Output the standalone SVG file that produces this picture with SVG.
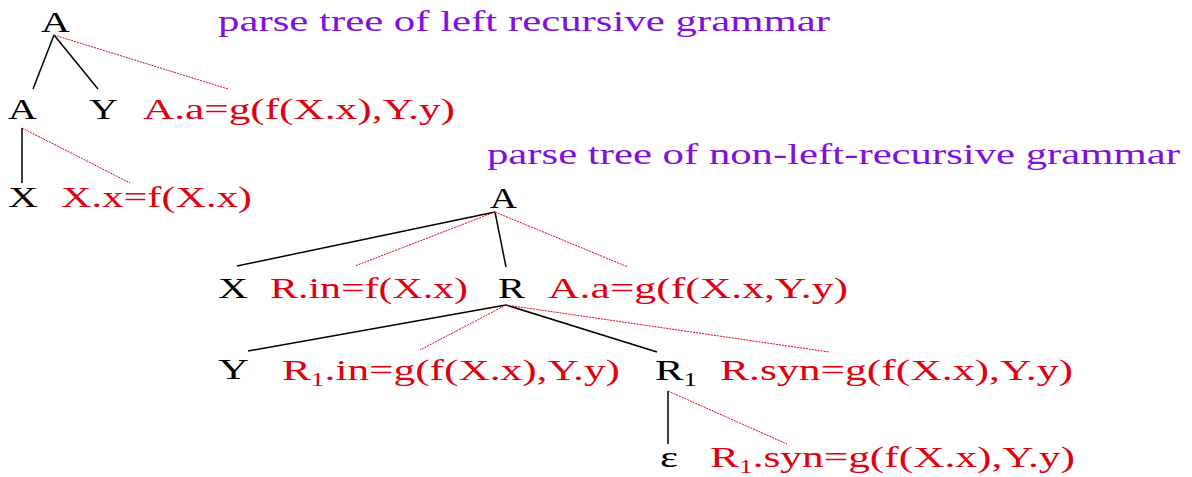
<svg xmlns="http://www.w3.org/2000/svg" width="1192" height="477" viewBox="0 0 1192 477">
<style>
text{font-family:"Liberation Serif","Times New Roman",serif;font-size:30px;}
.n{fill:#000;}
.r{fill:#e00010;}
.t{fill:#7f10e0;}
.sub{font-size:19px;}
.e{stroke:#000;stroke-width:1.5;fill:none;}
.d{stroke:#e00010;stroke-width:1;stroke-dasharray:2 1;fill:none;}
</style>
<rect width="1192" height="477" fill="#fff"/>
<g id="connectors">
<line class="e" x1="54" y1="35" x2="33" y2="89"/>
<line class="e" x1="54" y1="35" x2="98" y2="89"/>
<line class="d" x1="54" y1="35" x2="228" y2="89"/>
<line class="e" x1="22" y1="128" x2="22" y2="183"/>
<line class="d" x1="22" y1="128" x2="130" y2="183"/>
<line class="e" x1="495" y1="212" x2="237" y2="266"/>
<line class="e" x1="495" y1="212" x2="506" y2="267"/>
<line class="d" x1="495" y1="212" x2="355" y2="266"/>
<line class="d" x1="495" y1="212" x2="628" y2="267"/>
<line class="e" x1="506" y1="305" x2="248" y2="351"/>
<line class="e" x1="506" y1="305" x2="657" y2="352"/>
<line class="d" x1="506" y1="305" x2="420" y2="350"/>
<line class="d" x1="506" y1="305" x2="829" y2="352"/>
<line class="e" x1="668" y1="391" x2="668" y2="444"/>
<line class="d" x1="668" y1="391" x2="787" y2="444"/>
</g>
<g id="title1"><text class="t" x="218" y="31" textLength="612" lengthAdjust="spacingAndGlyphs">parse tree of left recursive grammar</text></g>
<g id="title2"><text class="t" x="487" y="164" textLength="693" lengthAdjust="spacingAndGlyphs">parse tree of non-left-recursive grammar</text></g>
<g id="L_A"><text class="n" x="41" y="32" textLength="29" lengthAdjust="spacingAndGlyphs">A</text></g>
<g id="L_A2"><text class="n" x="8" y="119" textLength="29" lengthAdjust="spacingAndGlyphs">A</text></g>
<g id="L_Y"><text class="n" x="89" y="119" textLength="29" lengthAdjust="spacingAndGlyphs">Y</text></g>
<g id="L_Aa"><text class="r" x="143" y="119" textLength="312" lengthAdjust="spacingAndGlyphs">A.a=g(f(X.x),Y.y)</text></g>
<g id="L_X"><text class="n" x="8" y="207" textLength="30" lengthAdjust="spacingAndGlyphs">X</text></g>
<g id="L_Xx"><text class="r" x="61" y="207" textLength="191" lengthAdjust="spacingAndGlyphs">X.x=f(X.x)</text></g>
<g id="N_A"><text class="n" x="490" y="208" textLength="27" lengthAdjust="spacingAndGlyphs">A</text></g>
<g id="N_X"><text class="n" x="218" y="298" textLength="30" lengthAdjust="spacingAndGlyphs">X</text></g>
<g id="N_Rin"><text class="r" x="270" y="298" textLength="198" lengthAdjust="spacingAndGlyphs">R.in=f(X.x)</text></g>
<g id="N_R"><text class="n" x="498" y="298" textLength="27" lengthAdjust="spacingAndGlyphs">R</text></g>
<g id="N_Aa"><text class="r" x="548" y="298" textLength="300" lengthAdjust="spacingAndGlyphs">A.a=g(f(X.x,Y.y)</text></g>
<g id="N_Y"><text class="n" x="218" y="379" textLength="31" lengthAdjust="spacingAndGlyphs">Y</text></g>
<g id="N_R1in"><text class="r" x="282" y="380" textLength="338" lengthAdjust="spacingAndGlyphs">R<tspan class="sub" dy="6">1</tspan><tspan dy="-6">.in=g(f(X.x),Y.y)</tspan></text></g>
<g id="N_R1"><text class="n" x="655" y="380" textLength="42" lengthAdjust="spacingAndGlyphs">R<tspan class="sub" dy="6">1</tspan></text></g>
<g id="N_Rsyn"><text class="r" x="720" y="380" textLength="353" lengthAdjust="spacingAndGlyphs">R.syn=g(f(X.x),Y.y)</text></g>
<g id="N_eps"><text class="n" x="660" y="467" textLength="18" lengthAdjust="spacingAndGlyphs">ε</text></g>
<g id="N_R1syn"><text class="r" x="710" y="467" textLength="365" lengthAdjust="spacingAndGlyphs">R<tspan class="sub" dy="6">1</tspan><tspan dy="-6">.syn=g(f(X.x),Y.y)</tspan></text></g>
</svg>
